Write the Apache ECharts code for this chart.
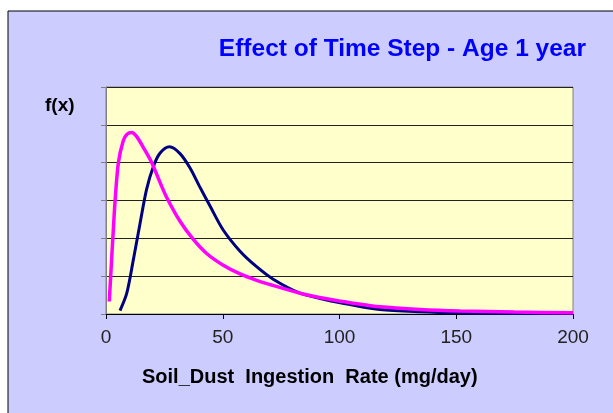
<!DOCTYPE html>
<html>
<head>
<meta charset="utf-8">
<script src="https://cdn.jsdelivr.net/npm/echarts@6/dist/echarts.min.js"></script>
<style>
  html, body { margin: 0; padding: 0; background: #fff; }
  #chart { width: 613px; height: 413px; }
</style>
</head>
<body>
<div id="chart"></div>
<script>
// values (x in mg/day, y in gridline units)
var pinkX = [1.4, 2.4, 3.2, 3.9, 5.3, 7.4, 9, 11, 13, 16, 19.6, 23, 26, 31.7, 37.4, 43.1, 50.2, 57.4, 64.5, 70.2, 83.1, 97.4, 104.5, 117.3, 134.5, 151.6, 175, 200];
var pinkY = [0.33, 1.43, 2.3, 3.0, 4.0, 4.58, 4.75, 4.8, 4.7, 4.4, 4.0, 3.5, 3.08, 2.45, 1.97, 1.6, 1.29, 1.06, 0.89, 0.78, 0.55, 0.37, 0.3, 0.19, 0.12, 0.08, 0.05, 0.03];
var navyX = [6, 8.9, 11.7, 14.6, 17.4, 20.3, 23.1, 27.2, 31.7, 36, 40, 44.5, 50.2, 57.4, 64.5, 71.6, 83.1, 94.5, 104.5, 117.3, 134.5, 151.6, 175, 200];
var navyY = [0.09, 0.55, 1.43, 2.4, 3.3, 3.9, 4.25, 4.42, 4.24, 3.86, 3.38, 2.86, 2.22, 1.66, 1.25, 0.92, 0.55, 0.37, 0.25, 0.12, 0.06, 0.03, 0.015, 0.01];
var xTicks = [0, 50, 100, 150, 200];

function pairs(xs, ys) {
    var out = [];
    for (var i = 0; i < xs.length; i++) out.push([xs[i], ys[i]]);
    return out;
}

var myChart = echarts.init(document.getElementById('chart'));

var option = {
    backgroundColor: '#ffffff',
    animation: false,
    graphic: [
        {
            type: 'rect',
            shape: { x: 8, y: 11, width: 640, height: 440 },
            style: { fill: '#CCCCFF', stroke: '#000', lineWidth: 1 },
            z: -10
        },
        {
            type: 'text',
            left: 45, top: 96,
            style: { text: 'f(x)', font: 'bold 19px Arial, "Liberation Sans", sans-serif', fill: '#000' }
        },
        {
            type: 'text',
            left: 142, top: 367,
            style: { text: 'Soil_Dust  Ingestion  Rate (mg/day)', font: 'bold 20px Arial, "Liberation Sans", sans-serif', fill: '#000' }
        }
    ],
    title: {
        text: 'Effect of Time Step - Age 1 year',
        right: 22,
        top: 32,
        textStyle: {
            color: '#0000FF',
            fontSize: 24.5,
            fontWeight: 'bold',
            fontFamily: 'Arial, "Liberation Sans", sans-serif'
        }
    },
    grid: {
        left: 106, right: 40, top: 87, bottom: 99,
        show: true,
        backgroundColor: '#FFFFCC',
        borderColor: '#808080',
        borderWidth: 1
    },
    xAxis: {
        type: 'value',
        min: 0, max: 200, interval: 50,
        axisLine: { lineStyle: { color: '#000', width: 1 } },
        axisTick: { show: true, length: 5, inside: false, lineStyle: { color: '#000' } },
        axisLabel: {
            margin: 14, color: '#222', fontSize: 19,
            fontFamily: 'Arial, "Liberation Sans", sans-serif',
            formatter: function (v) { return xTicks.indexOf(v) >= 0 ? String(v) : ''; }
        },
        splitLine: { show: false }
    },
    yAxis: {
        type: 'value',
        min: 0, max: 6, interval: 1,
        axisLine: { show: true, lineStyle: { color: '#808080' } },
        axisTick: { show: true, length: 5, inside: false, lineStyle: { color: '#808080' } },
        axisLabel: { show: false },
        splitLine: { show: true, lineStyle: { color: '#222', width: 1 } }
    },
    series: [
        {
            name: 'navy',
            type: 'line',
            data: pairs(navyX, navyY),
            smooth: 0.3,
            showSymbol: false,
            lineStyle: { color: '#000080', width: 3 }
        },
        {
            name: 'pink',
            type: 'line',
            data: pairs(pinkX, pinkY),
            smooth: 0.3,
            showSymbol: false,
            lineStyle: { color: '#FF00FF', width: 3.5 }
        }
    ]
};

myChart.setOption(option);
</script>
</body>
</html>
